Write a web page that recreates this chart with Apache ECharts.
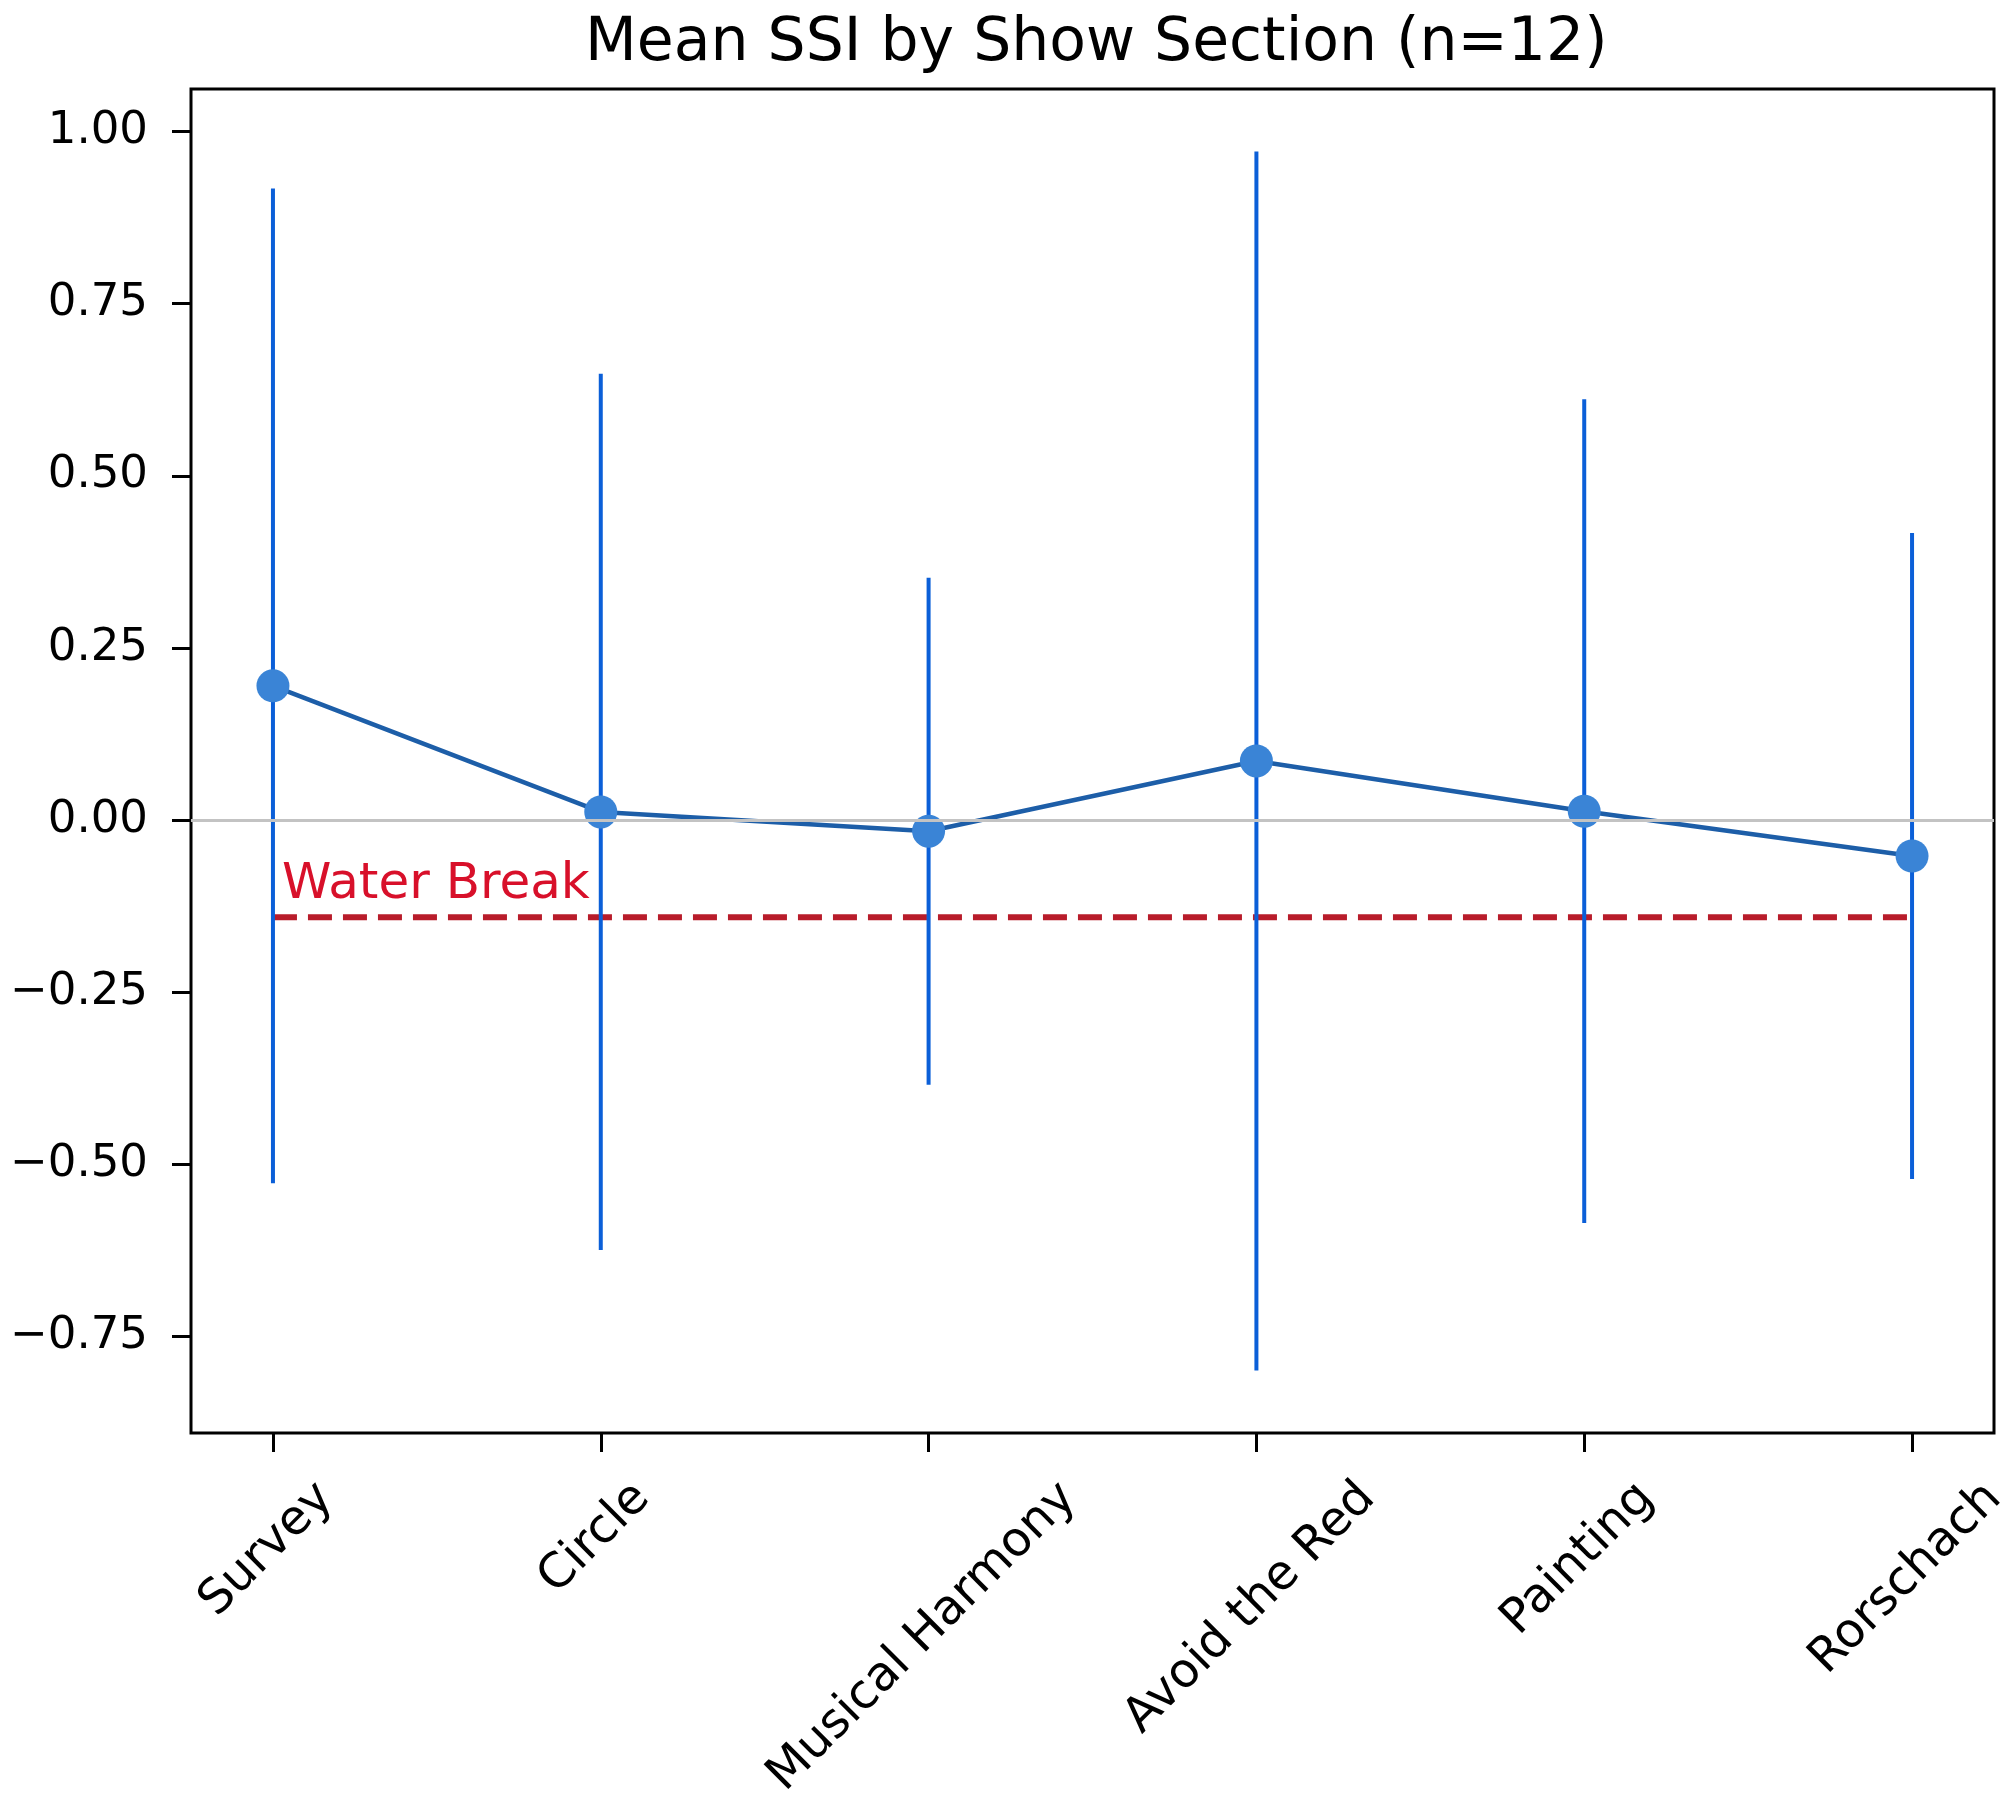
<!DOCTYPE html>
<html><head><meta charset="utf-8">
<script src="https://cdn.jsdelivr.net/npm/echarts@6/dist/echarts.min.js"></script>
<style>html,body{margin:0;padding:0;background:#fff}#c{width:2000px;height:1803px}</style>
</head><body><div id="c"></div>
<script>
const categories = ['Survey', 'Circle', 'Musical Harmony', 'Avoid the Red', 'Painting', 'Rorschach'];
const meanSSI = [0.195, 0.012, -0.016, 0.086, 0.013, -0.052];
const errSSI = [0.722, 0.636, 0.368, 0.885, 0.598, 0.469];
const waterBreak = -0.141;
const waterLabel = 'Water Break';
const yTicks = [-0.75, -0.5, -0.25, 0, 0.25, 0.5, 0.75, 1.0];
const titleText = 'Mean SSI by Show Section (n=12)';

const FONT = 'DejaVu Sans';
const XFS = 48;
const Y_MIN = -0.8898, Y_MAX = 1.0616;
const fmt = v => (v < 0 ? '\u2212' : '') + Math.abs(v).toFixed(2);
const mctx = document.createElement('canvas').getContext('2d');
mctx.font = XFS + 'px "DejaVu Sans"';
const textW = s => mctx.measureText(s).width;
const idx = categories.map((c, i) => i);

const chart = echarts.init(document.getElementById('c'), null, {renderer: 'canvas'});
const option = {
  animation: false,
  backgroundColor: '#fff',
  title: {text: titleText, left: 580, top: 9,
    textStyle: {fontFamily: FONT, fontSize: 60, fontWeight: 'normal', color: '#000'}},
  grid: {left: 191, right: 6, top: 89, bottom: 370, show: true, borderColor: '#000', borderWidth: 3, backgroundColor: 'transparent'},
  xAxis: {type: 'value', min: -0.25, max: 5.25,
    axisLine: {show: false, onZero: false}, splitLine: {show: false},
    axisTick: {show: true, customValues: idx, length: 19, lineStyle: {color: '#000', width: 3}},
    axisLabel: {show: false}},
  yAxis: {type: 'value', min: Y_MIN, max: Y_MAX,
    axisLine: {show: false, onZero: false}, splitLine: {show: false},
    axisTick: {show: true, customValues: yTicks, length: 19, lineStyle: {color: '#000', width: 3}},
    axisLabel: {show: true, customValues: yTicks, formatter: fmt, margin: 43,
      fontFamily: FONT, fontSize: 45, color: '#000'}},
  series: [
    {
      name: 'water', type: 'line', z: 2, symbol: 'none', silent: true,
      data: [[0, waterBreak], [idx.length - 1, waterBreak]],
      lineStyle: {color: '#b81c2a', width: 6, type: [24, 11]},
      markLine: {silent: true, symbol: 'none', label: {show: false},
        lineStyle: {color: '#c3c3c3', width: 3, type: 'solid'}, data: [{yAxis: 0}]}
    },
    {
      name: 'err', type: 'custom', z: 3, silent: true,
      data: idx.map(i => [i, meanSSI[i] - errSSI[i], meanSSI[i] + errSSI[i]]),
      encode: {x: 0, y: [1, 2]},
      renderItem: (params, api) => {
        const a = api.coord([api.value(0), api.value(1)]);
        const b = api.coord([api.value(0), api.value(2)]);
        return {type: 'line', shape: {x1: a[0], y1: a[1], x2: b[0], y2: b[1]},
          style: {stroke: '#0b5fd8', lineWidth: 4}};
      }
    },
    {
      name: 'mean', type: 'line', z: 4,
      data: idx.map(i => [i, meanSSI[i]]),
      symbol: 'circle', symbolSize: 33,
      itemStyle: {color: '#3a84d6'},
      lineStyle: {color: '#1d5ea8', width: 4.5}
    },
    {
      name: 'waterText', type: 'custom', z: 5, silent: true,
      data: [[0, waterBreak]],
      encode: {x: 0, y: 1},
      renderItem: (params, api) => {
        const p = api.coord([api.value(0), api.value(1)]);
        return {type: 'text', x: p[0] + 9, y: p[1] - 32,
          style: {text: waterLabel, fontFamily: FONT, fontSize: 50, fill: '#d8102a', align: 'left', verticalAlign: 'middle'}};
      }
    },
    {
      name: 'xLabels', type: 'custom', z: 5, silent: true, clip: false,
      data: idx.map(i => [i, Y_MIN]),
      encode: {x: 0, y: 1},
      renderItem: (params, api) => {
        const i = api.value(0);
        const p = api.coord([i, api.value(1)]);
        const name = categories[i];
        const L = textW(name);
        const H = (L + 1.17 * XFS) * Math.SQRT1_2;
        return {type: 'text', x: p[0] - 6, y: p[1] + 38 + H / 2, rotation: Math.PI / 4,
          style: {text: name, fontFamily: FONT, fontSize: XFS, fill: '#000', align: 'center', verticalAlign: 'middle'}};
      }
    }
  ]
};
chart.setOption(option);
</script>
</body></html>
